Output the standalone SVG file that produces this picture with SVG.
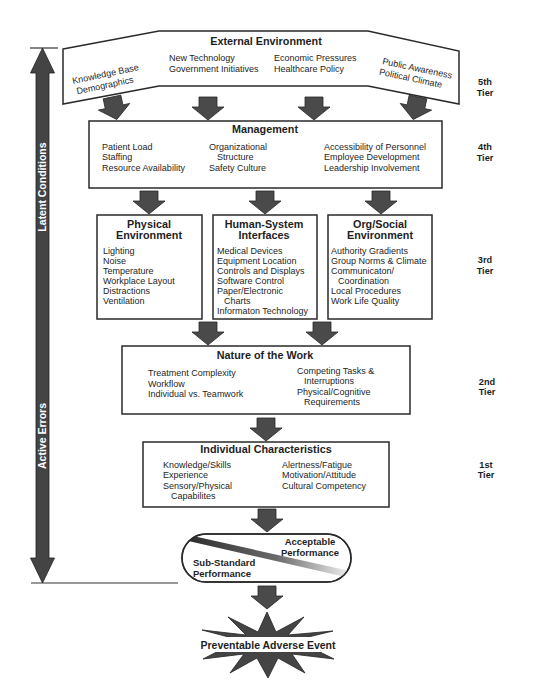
<svg xmlns="http://www.w3.org/2000/svg" xmlns:xlink="http://www.w3.org/1999/xlink" width="537" height="685" viewBox="0 0 537 685">
<style>
text{font-family:"Liberation Sans",Arial,sans-serif;fill:#1e1e1e}
.it{font-size:9px}
.ti{font-size:10.8px;font-weight:bold;text-anchor:middle}
.tier{font-size:9.2px;font-weight:bold;text-anchor:middle}
.pf{font-size:9.5px;font-weight:bold}
.box{fill:#fff;stroke:#2a2a2a;stroke-width:1.5}
.arr{fill:#4a4a4a;stroke:#262626;stroke-width:0.8}
.side{font-size:10.5px;font-weight:bold;fill:#fff;text-anchor:middle}
</style>
<defs>
<path id="dn" d="M-9,0 H9 V10 H16 L0,23 L-16,10 H-9 Z"/>
<linearGradient id="band" x1="184" y1="0" x2="352" y2="0" gradientUnits="userSpaceOnUse">
<stop offset="0" stop-color="#2a2a2a"/>
<stop offset="0.55" stop-color="#6a6a6a"/>
<stop offset="1" stop-color="#f4f4f4"/>
</linearGradient>
<clipPath id="pillclip"><rect x="182" y="534" width="169" height="48" rx="24"/></clipPath>
</defs>
<rect width="537" height="685" fill="#fff"/>

<g id="side-arrow">
<line x1="30" y1="48" x2="58" y2="48" stroke="#333" stroke-width="1.2"/>
<line x1="31" y1="583" x2="178" y2="583" stroke="#333" stroke-width="1.2"/>
<path d="M42.5,48 L54.5,73 L49,73 V558 L54.5,558 L42.5,583 L30.5,558 L36,558 V73 L30.5,73 Z" fill="#444" stroke="#222" stroke-width="0.8"/>
<text class="side" transform="translate(46.3,187) rotate(-90)">Latent Conditions</text>
<text class="side" transform="translate(46.3,436) rotate(-90)">Active Errors</text>
</g>

<g id="connectors">
<use xlink:href="#dn" class="arr" transform="translate(112,97) rotate(-12)"/>
<use xlink:href="#dn" class="arr" transform="translate(208,97)"/>
<use xlink:href="#dn" class="arr" transform="translate(314,97)"/>
<use xlink:href="#dn" class="arr" transform="translate(418,97) rotate(12)"/>
<use xlink:href="#dn" class="arr" transform="translate(149,191)"/>
<use xlink:href="#dn" class="arr" transform="translate(265,191)"/>
<use xlink:href="#dn" class="arr" transform="translate(381,191)"/>
<use xlink:href="#dn" class="arr" transform="translate(208,322)"/>
<use xlink:href="#dn" class="arr" transform="translate(322,322)"/>
<use xlink:href="#dn" class="arr" transform="translate(266,418)"/>
<use xlink:href="#dn" class="arr" transform="translate(267,509)"/>
<use xlink:href="#dn" class="arr" transform="translate(267,586)"/>
</g>

<g id="tier5">
<polygon class="box" points="63,49 159,31 368,31 459,51 459,104 368,86 159,86 63,104"/>
<text class="ti" x="266" y="45">External Environment</text>
<g transform="translate(73,84) rotate(-12)">
<text class="it" x="0" y="0">Knowledge Base</text>
<text class="it" x="2" y="11">Demographics</text>
</g>
<text class="it" x="169" y="60.5">New Technology</text>
<text class="it" x="169" y="72">Government Initiatives</text>
<text class="it" x="274" y="60.5">Economic Pressures</text>
<text class="it" x="274" y="72">Healthcare Policy</text>
<g transform="translate(382,64) rotate(12)">
<text class="it" x="0" y="0">Public Awareness</text>
<text class="it" x="-1" y="11">Political Climate</text>
</g>
<text class="tier" x="485" y="85">5th</text>
<text class="tier" x="485" y="96">Tier</text>
</g>

<g id="tier4">
<rect class="box" x="89" y="121" width="353" height="67"/>
<text class="ti" x="265" y="133">Management</text>
<text class="it" x="102" y="149.5">Patient Load</text>
<text class="it" x="102" y="160">Staffing</text>
<text class="it" x="102" y="170.5">Resource Availability</text>
<text class="it" x="209" y="149.5">Organizational</text>
<text class="it" x="217" y="160">Structure</text>
<text class="it" x="209" y="170.5">Safety Culture</text>
<text class="it" x="324" y="149.5">Accessibility of Personnel</text>
<text class="it" x="324" y="160">Employee Development</text>
<text class="it" x="324" y="170.5">Leadership Involvement</text>
<text class="tier" x="485" y="150">4th</text>
<text class="tier" x="485" y="161">Tier</text>
</g>

<g id="physical">
<rect class="box" x="97" y="215" width="105" height="104"/>
<text class="ti" x="149" y="228">Physical</text>
<text class="ti" x="149" y="238.5">Environment</text>
<text class="it" x="103" y="253.5">Lighting</text>
<text class="it" x="103" y="263.5">Noise</text>
<text class="it" x="103" y="273.5">Temperature</text>
<text class="it" x="103" y="283.5">Workplace Layout</text>
<text class="it" x="103" y="293.5">Distractions</text>
<text class="it" x="103" y="303.5">Ventilation</text>
</g>

<g id="hsi">
<rect class="box" x="213" y="215" width="104" height="104"/>
<text class="ti" x="264" y="228">Human-System</text>
<text class="ti" x="264" y="238.5">Interfaces</text>
<text class="it" x="217" y="253.5">Medical Devices</text>
<text class="it" x="217" y="263.5">Equipment Location</text>
<text class="it" x="217" y="273.5">Controls and Displays</text>
<text class="it" x="217" y="283.5">Software Control</text>
<text class="it" x="217" y="293.5">Paper/Electronic</text>
<text class="it" x="224" y="303.5">Charts</text>
<text class="it" x="217" y="313.5">Informaton Technology</text>
</g>

<g id="orgsocial">
<rect class="box" x="328" y="215" width="104" height="104"/>
<text class="ti" x="380" y="228">Org/Social</text>
<text class="ti" x="380" y="238.5">Environment</text>
<text class="it" x="331" y="253.5">Authority Gradients</text>
<text class="it" x="331" y="263.5">Group Norms &amp; Climate</text>
<text class="it" x="331" y="273.5">Communicaton/</text>
<text class="it" x="338" y="283.5">Coordination</text>
<text class="it" x="331" y="293.5">Local Procedures</text>
<text class="it" x="331" y="303.5">Work Life Quality</text>
<text class="tier" x="485" y="263">3rd</text>
<text class="tier" x="485" y="273.5">Tier</text>
</g>

<g id="tier2">
<rect class="box" x="122" y="346" width="288" height="68"/>
<text class="ti" x="265" y="359">Nature of the Work</text>
<text class="it" x="148" y="376">Treatment Complexity</text>
<text class="it" x="148" y="386.5">Workflow</text>
<text class="it" x="148" y="397">Individual vs. Teamwork</text>
<text class="it" x="297" y="373.5">Competing Tasks &amp;</text>
<text class="it" x="304" y="384">Interruptions</text>
<text class="it" x="297" y="394.5">Physical/Cognitive</text>
<text class="it" x="304" y="405">Requirements</text>
<text class="tier" x="487" y="384.5">2nd</text>
<text class="tier" x="487" y="395">Tier</text>
</g>

<g id="tier1">
<rect class="box" x="143" y="442" width="246" height="65"/>
<text class="ti" x="266" y="453">Individual Characteristics</text>
<text class="it" x="163" y="467.5">Knowledge/Skills</text>
<text class="it" x="163" y="478">Experience</text>
<text class="it" x="163" y="488.5">Sensory/Physical</text>
<text class="it" x="171" y="499">Capabilites</text>
<text class="it" x="282" y="467.5">Alertness/Fatigue</text>
<text class="it" x="282" y="478">Motivation/Attitude</text>
<text class="it" x="282" y="488.5">Cultural Competency</text>
<text class="tier" x="486" y="467.5">1st</text>
<text class="tier" x="486" y="478">Tier</text>
</g>

<g id="performance">
<rect class="box" x="182" y="534" width="169" height="48" rx="24"/>
<polygon points="184,534 354,572 354,579 184,540" fill="url(#band)" clip-path="url(#pillclip)"/>
<rect x="182" y="534" width="169" height="48" rx="24" fill="none" stroke="#2a2a2a" stroke-width="1.5"/>
<text class="pf" x="310" y="545" text-anchor="middle">Acceptable</text>
<text class="pf" x="310" y="556" text-anchor="middle">Performance</text>
<text class="pf" x="193" y="566">Sub-Standard</text>
<text class="pf" x="193" y="577">Performance</text>
</g>

<g id="adverse-event">
<polygon points="267,612 276,632 304,617 288,635 333,631 296,640 334,659 292,654 305,673 278,658 268,678 257,658 230,673 244,654 203,659 240,640 202,630 246,635 228,617 258,632" fill="#444" stroke="#222" stroke-width="0.8" stroke-linejoin="miter"/>
<rect x="201" y="637" width="136" height="15" fill="#fff"/>
<text x="268" y="649" text-anchor="middle" style="font-size:10.5px;font-weight:bold">Preventable Adverse Event</text>
</g>
</svg>
